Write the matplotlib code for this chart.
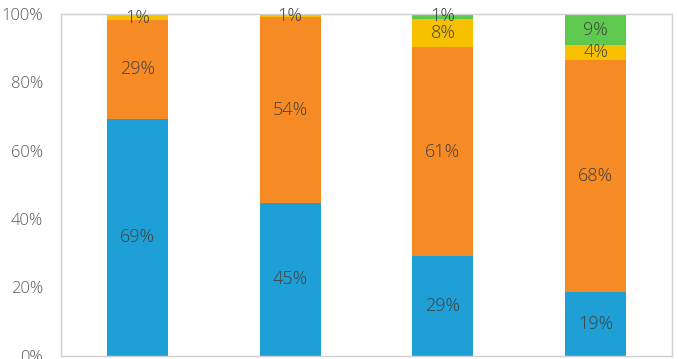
import matplotlib
matplotlib.use('Agg')
import matplotlib.pyplot as plt
import numpy as np

# Share of each segment per bar (%)
categories = ['A', 'B', 'C', 'D']
blue = [69.3, 44.7, 29.1, 18.7]
orange = [29.0, 54.4, 61.1, 67.9]
yellow = [1.3, 0.6, 8.4, 4.3]
green = [0.4, 0.3, 1.4, 9.1]

colors = ['#1e9fd6', '#f68b25', '#f7c100', '#5fc94f']
series = [blue, orange, yellow, green]

plt.rcParams['font.family'] = ['Open Sans', 'DejaVu Sans']

fig = plt.figure(figsize=(6.78, 3.59), dpi=100)
ax = fig.add_axes([61/678, 1 - 355.5/359, 611/678, 341.5/359])

x = np.arange(len(categories))
bottom = np.zeros(len(categories))
for vals, c in zip(series, colors):
    vals = np.array(vals)
    ax.bar(x, vals, 0.4, bottom=bottom, color=c, zorder=2)
    for xi, b, v in zip(x, bottom, vals):
        if round(v) > 0:
            ax.text(xi, b + v / 2, '%d%%' % round(v), ha='center', va='center',
                    fontsize=13, fontweight='light', color='#404040', zorder=3)
    bottom += vals

ax.set_xlim(-0.5, 3.5)
ax.set_ylim(0, 100)
ax.set_yticks([0, 20, 40, 60, 80, 100])
ax.set_yticklabels(['%d%%' % t for t in [0, 20, 40, 60, 80, 100]])
ax.set_xticks([])
ax.tick_params(axis='y', length=0, pad=13, labelsize=12, labelcolor='#595959')
for lbl in ax.get_yticklabels():
    lbl.set_fontweight('light')
for s in ax.spines.values():
    s.set_color('#d0d0d0')
    s.set_linewidth(1)

fig.savefig('out.png', dpi=100)
